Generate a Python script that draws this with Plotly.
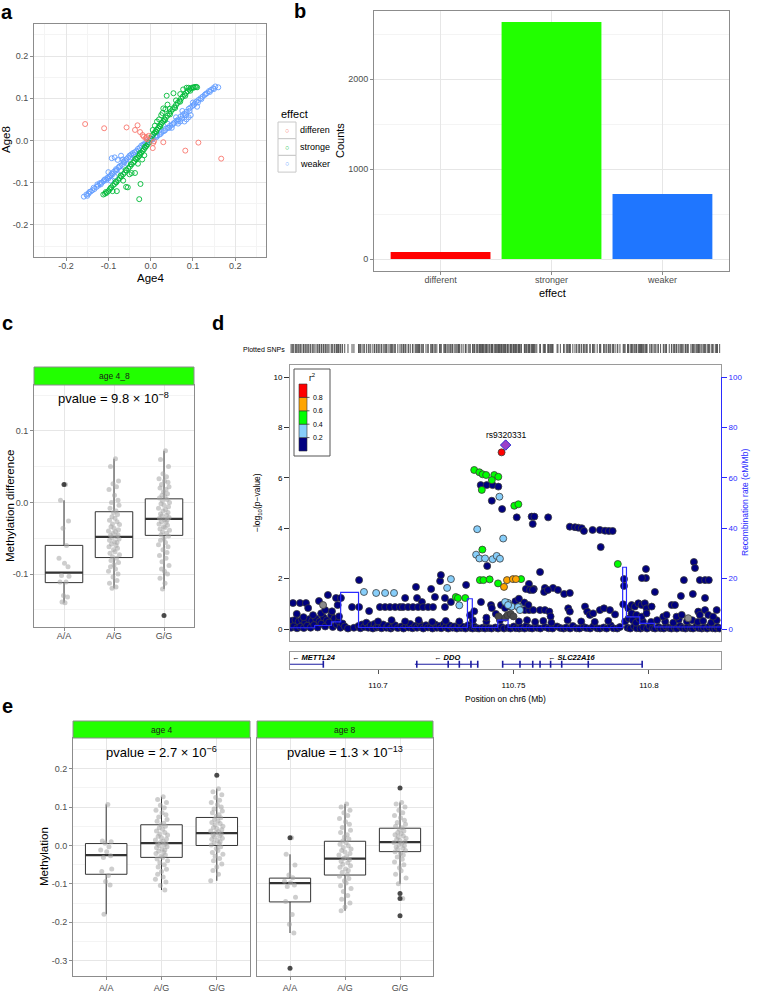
import plotly.graph_objects as go

W, H = 757, 993
FONT = "Liberation Sans, Arial, sans-serif"

# ---------------- panel a: effect size at age 4 vs age 8
weaker_a = [(-0.158, -0.133), (-0.152, -0.128), (-0.147, -0.126), (-0.142, -0.121), (-0.138, -0.118),
            (-0.133, -0.115), (-0.128, -0.110), (-0.124, -0.107), (-0.120, -0.101), (-0.116, -0.100),
            (-0.112, -0.097), (-0.108, -0.092), (-0.105, -0.094), (-0.100, -0.090), (-0.097, -0.085),
            (-0.094, -0.083), (-0.090, -0.080), (-0.087, -0.074), (-0.083, -0.072), (-0.080, -0.070),
            (-0.076, -0.064), (-0.072, -0.060), (-0.068, -0.058), (-0.064, -0.050), (-0.060, -0.047),
            (-0.057, -0.044), (-0.053, -0.040), (-0.050, -0.036), (-0.046, -0.033), (-0.042, -0.030),
            (-0.038, -0.028), (-0.034, -0.025), (-0.030, -0.020), (-0.026, -0.017), (-0.022, -0.012),
            (-0.018, -0.010), (-0.013, -0.006), (-0.009, -0.003), (-0.004, 0.001), (0.001, 0.002),
            (0.006, 0.005), (0.011, 0.009), (0.016, 0.012), (0.021, 0.014), (0.026, 0.020),
            (0.031, 0.022), (0.036, 0.028), (0.041, 0.030), (0.046, 0.035), (0.051, 0.037),
            (0.056, 0.042), (0.061, 0.047), (0.066, 0.050), (0.071, 0.057), (0.076, 0.060),
            (0.080, 0.064), (0.085, 0.068), (0.090, 0.075), (0.094, 0.078), (0.099, 0.082),
            (0.104, 0.087), (0.108, 0.092), (0.113, 0.096), (0.118, 0.100), (0.123, 0.104),
            (0.128, 0.108), (0.133, 0.112), (0.138, 0.117), (0.143, 0.120), (0.148, 0.124),
            (0.153, 0.128), (0.160, 0.126), (-0.100, -0.075), (-0.095, -0.095), (-0.066, -0.045),
            (-0.055, -0.055), (0.060, 0.055), (0.070, 0.045), (0.085, 0.050), (0.090, 0.055),
            (0.095, 0.060), (0.110, 0.080), (0.075, 0.070), (0.040, 0.040), (0.050, 0.030),
            (-0.070, -0.072), (-0.085, -0.085), (0.100, 0.090), (0.065, 0.040), (0.080, 0.045),
            (-0.092, -0.042), (-0.085, -0.040), (-0.078, -0.046), (-0.070, -0.036),
            (-0.150, -0.131), (-0.145, -0.122), (-0.135, -0.112), (-0.126, -0.104), (-0.118, -0.104),
            (-0.110, -0.094), (-0.102, -0.088), (-0.092, -0.078), (-0.082, -0.068), (-0.074, -0.062),
            (-0.062, -0.052), (-0.048, -0.040), (-0.040, -0.034), (-0.028, -0.024), (-0.016, -0.012),
            (-0.006, -0.004), (0.004, 0.002), (0.014, 0.008), (0.024, 0.016), (0.034, 0.024),
            (0.044, 0.030), (0.054, 0.040), (0.064, 0.045), (0.074, 0.052), (0.083, 0.060),
            (0.092, 0.070), (0.102, 0.084), (0.112, 0.090), (0.120, 0.098), (0.130, 0.110),
            (0.140, 0.115), (0.150, 0.122)]
stronger_a = [(-0.112, -0.128), (-0.108, -0.126), (-0.104, -0.124), (-0.100, -0.120), (-0.097, -0.116),
              (-0.093, -0.111), (-0.089, -0.106), (-0.085, -0.103), (-0.081, -0.099), (-0.077, -0.094),
              (-0.073, -0.089), (-0.069, -0.085), (-0.065, -0.080), (-0.061, -0.076), (-0.057, -0.071),
              (-0.053, -0.066), (-0.049, -0.062), (-0.045, -0.057), (-0.041, -0.052), (-0.038, -0.049),
              (-0.034, -0.044), (-0.031, -0.041), (-0.028, -0.037), (-0.025, -0.033), (-0.022, -0.029),
              (-0.019, -0.025), (-0.016, -0.021), (-0.013, -0.017), (-0.010, -0.013), (-0.007, -0.009),
              (-0.004, -0.005), (0.003, 0.010), (0.006, 0.014), (0.009, 0.018), (0.012, 0.022),
              (0.015, 0.026), (0.018, 0.030), (0.021, 0.034), (0.024, 0.038), (0.027, 0.042),
              (0.030, 0.046), (0.033, 0.050), (0.036, 0.054), (0.040, 0.059), (0.044, 0.064),
              (0.048, 0.069), (0.052, 0.074), (0.056, 0.079), (0.060, 0.084), (0.064, 0.089),
              (0.068, 0.094), (0.072, 0.099), (0.076, 0.104), (0.080, 0.109), (0.084, 0.113),
              (0.088, 0.117), (0.092, 0.121), (0.096, 0.124), (0.100, 0.126), (0.105, 0.127),
              (0.110, 0.126), (-0.027, -0.139), (-0.024, -0.103), (-0.058, -0.110), (-0.054, -0.111),
              (-0.080, -0.120), (-0.045, -0.077), (-0.037, -0.077), (0.038, 0.106), (0.054, 0.112),
              (0.077, 0.121), (0.030, 0.076), (0.035, 0.074), (0.020, 0.050), (0.025, 0.060),
              (0.015, 0.045), (-0.030, -0.055), (-0.020, -0.045), (-0.050, -0.080), (-0.065, -0.095),
              (-0.090, -0.120), (0.045, 0.075), (0.060, 0.095), (0.070, 0.110), (0.085, 0.125),
              (0.005, 0.025), (-0.015, -0.035), (0.010, 0.035), (0.028, 0.065), (0.040, 0.085),
              (0.090, 0.125), (-0.106, -0.122), (-0.095, -0.113), (-0.083, -0.098), (-0.071, -0.083),
              (-0.059, -0.070), (-0.047, -0.056), (-0.036, -0.043), (-0.026, -0.030), (-0.014, -0.015),
              (0.000, 0.004), (0.013, 0.020), (0.023, 0.033), (0.034, 0.048), (0.046, 0.062),
              (0.058, 0.077), (0.070, 0.092), (0.082, 0.106), (0.094, 0.118), (0.102, 0.125),
              (0.108, 0.127)]
different_a = [(-0.155, 0.039), (-0.110, 0.029), (-0.057, 0.031), (-0.031, 0.036), (-0.037, 0.025),
               (-0.025, 0.020), (-0.019, 0.013), (-0.016, 0.009), (-0.011, 0.006), (-0.009, 0.003),
               (-0.009, 0.008), (-0.005, 0.011), (0.006, -0.006), (0.008, -0.002), (0.005, -0.018),
               (0.030, -0.004), (0.082, -0.024), (0.113, -0.005), (0.167, -0.043)]
effect_levels = ["different", "stronger", "weaker"]
effect_colors = ["#F8766D", "#00BA38", "#619CFF"]
legend_labels_a = ["differen", "stronge", "weaker"]
a_ticks = [-0.2, -0.1, 0.0, 0.1, 0.2]
a_ticktext = ["-0.2", "-0.1", "0.0", "0.1", "0.2"]
a_minor = [-0.25, -0.15, -0.05, 0.05, 0.15, 0.25]

# ---------------- panel b: counts per effect class
effect_counts = [78, 2633, 722]
bar_colors = ["#FF0000", "#22FF00", "#1F76FF"]
b_ticks = [0, 1000, 2000]
b_minor = [500, 1500, 2500]

# ---------------- panel c and e: methylation by genotype
genotypes = ["A/A", "A/G", "G/G"]
jitter = [0.03, -0.07, 0.09, -0.02, 0.05, -0.10, 0.01, 0.08, -0.05, 0.10, -0.08, 0.04, -0.01, 0.07, -0.04,
          0.02, -0.09, 0.06, -0.03, 0.11, -0.06, 0.00, 0.09, -0.11, 0.03, -0.02, 0.08, -0.07, 0.05, -0.04,
          0.10, -0.09, 0.01, 0.06, -0.05, 0.04, -0.10, 0.07, -0.01, 0.02, -0.08, 0.11, -0.03, 0.05, -0.06,
          0.09, 0.00, -0.07, 0.03, -0.11, 0.08, -0.02, 0.06, -0.09, 0.04, -0.04, 0.10, -0.05, 0.01, 0.07,
          -0.08, 0.02, -0.03, 0.09, -0.10, 0.05, -0.01, 0.08, -0.06, 0.03, 0.11, -0.04, 0.00, 0.06, -0.09,
          0.04, -0.07, 0.10, -0.02, 0.07, -0.05, 0.02, -0.11, 0.08, -0.03, 0.05, -0.08, 0.01, 0.09, -0.06]

c_AA = [0.025, 0.003, -0.026, -0.036, -0.060, -0.078, -0.085, -0.090, -0.102, -0.103, -0.111, -0.111,
        -0.130, -0.132, -0.139, -0.140]
c_AG = [0.061, 0.050, 0.030, 0.026, 0.022, 0.018, 0.010, 0.003, 0.000, -0.004, -0.008, -0.012, -0.014,
        -0.017, -0.020, -0.022, -0.025, -0.027, -0.030, -0.031, -0.034, -0.036, -0.038, -0.040, -0.041,
        -0.043, -0.045, -0.046, -0.048, -0.049, -0.051, -0.053, -0.055, -0.056, -0.058, -0.060, -0.062,
        -0.064, -0.066, -0.069, -0.071, -0.073, -0.076, -0.078, -0.081, -0.084, -0.087, -0.090, -0.093,
        -0.096, -0.100, -0.104, -0.109, -0.113, -0.118, -0.120]
c_GG = [0.072, 0.060, 0.050, 0.040, 0.036, 0.033, 0.030, 0.028, 0.025, 0.022, 0.020, 0.018, 0.015, 0.012,
        0.010, 0.008, 0.006, 0.004, 0.002, 0.000, -0.002, -0.004, -0.006, -0.008, -0.010, -0.012, -0.014,
        -0.016, -0.018, -0.019, -0.021, -0.022, -0.024, -0.025, -0.027, -0.028, -0.030, -0.032, -0.034,
        -0.035, -0.037, -0.039, -0.041, -0.043, -0.045, -0.047, -0.050, -0.053, -0.056, -0.059, -0.062,
        -0.066, -0.070, -0.074, -0.078, -0.083, -0.088, -0.093, -0.096, -0.100, -0.106, -0.113, -0.121]
c_outliers = [[0.025], [], [-0.158]]
c_q1 = [-0.112, -0.077, -0.046]
c_med = [-0.098, -0.048, -0.023]
c_q3 = [-0.060, -0.013, 0.005]
c_lo = [-0.140, -0.120, -0.121]
c_hi = [0.003, 0.061, 0.072]
c_ticks = [-0.1, 0.0, 0.1]
c_ticktext = ["-0.1", "0.0", "0.1"]
c_minor = [-0.15, -0.05, 0.05, 0.15]

e4_AA = [0.107, 0.012, 0.010, 0.006, -0.003, -0.012, -0.016, -0.027, -0.031, -0.061, -0.068, -0.078,
         -0.094, -0.103, -0.179]
e4_AG = [0.127, 0.120, 0.112, 0.105, 0.098, 0.092, 0.085, 0.080, 0.074, 0.068, 0.063, 0.058, 0.054, 0.050,
         0.046, 0.042, 0.038, 0.034, 0.030, 0.027, 0.024, 0.020, 0.017, 0.014, 0.011, 0.008, 0.006, 0.004,
         0.002, 0.000, -0.003, -0.006, -0.009, -0.012, -0.015, -0.018, -0.021, -0.025, -0.028, -0.031,
         -0.035, -0.040, -0.045, -0.050, -0.056, -0.062, -0.068, -0.075, -0.082, -0.088, -0.095, -0.104,
         -0.116]
e4_GG = [0.148, 0.140, 0.132, 0.125, 0.118, 0.112, 0.106, 0.100, 0.095, 0.090, 0.085, 0.080, 0.076, 0.072,
         0.068, 0.064, 0.060, 0.057, 0.054, 0.050, 0.047, 0.044, 0.041, 0.038, 0.036, 0.033, 0.030, 0.027,
         0.025, 0.022, 0.019, 0.016, 0.013, 0.010, 0.007, 0.004, 0.001, -0.003, -0.008, -0.013, -0.018,
         -0.023, -0.028, -0.034, -0.040, -0.048, -0.056, -0.065, -0.075, -0.092]
e4_outliers = [[], [], [0.183]]
e4_q1 = [-0.075, -0.031, 0.000]
e4_med = [-0.025, 0.006, 0.032]
e4_q3 = [0.005, 0.054, 0.073]
e4_lo = [-0.179, -0.116, -0.092]
e4_hi = [0.107, 0.127, 0.148]

e8_AA = [0.020, -0.023, -0.051, -0.077, -0.084, -0.093, -0.097, -0.103, -0.107, -0.135, -0.146, -0.180,
         -0.205, -0.228]
e8_AG = [0.108, 0.100, 0.092, 0.085, 0.078, 0.070, 0.062, 0.055, 0.047, 0.040, 0.034, 0.028, 0.022, 0.017,
         0.012, 0.007, 0.003, -0.001, -0.005, -0.009, -0.013, -0.017, -0.021, -0.025, -0.029, -0.033,
         -0.037, -0.041, -0.045, -0.049, -0.053, -0.057, -0.061, -0.065, -0.070, -0.075, -0.080, -0.086,
         -0.092, -0.098, -0.105, -0.112, -0.120, -0.130, -0.140, -0.150, -0.160, -0.170]
e8_GG = [0.112, 0.108, 0.100, 0.092, 0.085, 0.078, 0.072, 0.066, 0.060, 0.055, 0.050, 0.046, 0.042, 0.038,
         0.034, 0.031, 0.028, 0.025, 0.022, 0.019, 0.016, 0.013, 0.010, 0.008, 0.005, 0.002, -0.001, -0.004,
         -0.007, -0.010, -0.013, -0.016, -0.020, -0.025, -0.030, -0.036, -0.043, -0.050, -0.058, -0.066,
         -0.075, -0.085, -0.100, -0.138]
e8_outliers = [[0.020, -0.320], [], [0.150, -0.125, -0.138, -0.183]]
e8_q1 = [-0.147, -0.077, -0.016]
e8_med = [-0.098, -0.034, 0.009]
e8_q3 = [-0.085, 0.011, 0.045]
e8_lo = [-0.228, -0.170, -0.100]
e8_hi = [-0.023, 0.108, 0.112]
e_ticks = [-0.3, -0.2, -0.1, 0.0, 0.1, 0.2]
e_ticktext = ["-0.3", "-0.2", "-0.1", "0.0", "0.1", "0.2"]
e_minor = [-0.25, -0.15, -0.05, 0.05, 0.15, 0.25]

# ---------------- panel d: regional association plot (position Mb, -log10 p)
navy_snps = [
    (110.6679, 0.05), (110.6683, 0.33), (110.6689, 0.12), (110.6695, 0.36), (110.6701, 0.03), (110.6707, 0.30),
    (110.6713, 0.09), (110.6719, 0.37), (110.6726, 0.04), (110.6731, 0.27), (110.6738, 0.13), (110.6745, 0.39),
    (110.6751, 0.05), (110.6757, 0.33), (110.6764, 0.16), (110.6771, 0.41), (110.6777, 0.06), (110.6784, 0.30),
    (110.6791, 0.21), (110.6799, 0.46), (110.6805, 0.10), (110.6811, 0.35), (110.6819, 0.26), (110.6827, 0.55),
    (110.6833, 0.08), (110.6839, 0.42), (110.6847, 0.18), (110.6854, 0.31), (110.6861, 0.05), (110.6869, 0.22),
    (110.6877, 0.10), (110.6889, 0.02), (110.6911, 0.05), (110.6928, 0.12), (110.6935, 0.03), (110.6941, 0.18),
    (110.6949, 0.08), (110.6957, 0.25), (110.6964, 0.05), (110.6973, 0.15), (110.6981, 0.02), (110.6987, 0.20),
    (110.6995, 0.06), (110.7003, 0.10), (110.7013, 0.03), (110.7019, 0.18), (110.7031, 0.05), (110.7037, 0.12),
    (110.7047, 0.02), (110.7054, 0.08), (110.7063, 0.15), (110.7073, 0.04), (110.7086, 0.10), (110.7094, 0.02),
    (110.7103, 0.14), (110.7113, 0.06), (110.7119, 0.20), (110.7127, 0.03), (110.7137, 0.12), (110.7144, 0.05),
    (110.7153, 0.22), (110.7159, 0.08), (110.7167, 0.02), (110.7177, 0.15), (110.7184, 0.06), (110.7195, 0.10),
    (110.7201, 0.02), (110.7211, 0.18), (110.7217, 0.05), (110.7227, 0.12), (110.7233, 0.03), (110.7243, 0.20),
    (110.7249, 0.07), (110.7259, 0.02), (110.7265, 0.14), (110.7275, 0.05), (110.7281, 0.10), (110.7291, 0.02),
    (110.7297, 0.16), (110.7307, 0.04), (110.7314, 0.09), (110.7323, 0.02), (110.7333, 0.15), (110.7339, 0.05),
    (110.7349, 0.02), (110.7355, 0.10), (110.7366, 0.03), (110.7373, 0.02), (110.7386, 0.05), (110.7395, 0.02),
    (110.7409, 0.04), (110.7419, 0.02), (110.7433, 0.06), (110.7443, 0.02), (110.7456, 0.08), (110.7465, 0.02),
    (110.7479, 0.05), (110.7489, 0.02), (110.7501, 0.10), (110.7509, 0.03), (110.7521, 0.02), (110.7529, 0.06),
    (110.7541, 0.02), (110.7547, 0.12), (110.7559, 0.04), (110.7569, 0.02), (110.7586, 0.05), (110.7599, 0.02),
    (110.7616, 0.08), (110.7629, 0.03), (110.7644, 0.02), (110.7661, 0.10), (110.7673, 0.04), (110.7685, 0.02),
    (110.7695, 0.06), (110.7709, 0.02), (110.7719, 0.12), (110.7733, 0.03), (110.7744, 0.02), (110.7759, 0.08),
    (110.7769, 0.04), (110.7783, 0.02), (110.7794, 0.10), (110.7809, 0.03), (110.7819, 0.02), (110.7833, 0.06),
    (110.7844, 0.02), (110.7859, 0.14), (110.7869, 0.03), (110.7883, 0.02), (110.7893, 0.08), (110.7921, 0.05),
    (110.7931, 0.02), (110.7945, 0.10), (110.7955, 0.03), (110.7969, 0.02), (110.7979, 0.06), (110.7993, 0.02),
    (110.8003, 0.12), (110.8015, 0.04), (110.8023, 0.02), (110.8035, 0.08), (110.8043, 0.03), (110.8055, 0.02),
    (110.8063, 0.10), (110.8075, 0.04), (110.8083, 0.02), (110.8095, 0.06), (110.8103, 0.02), (110.8115, 0.12),
    (110.8123, 0.04), (110.8135, 0.02), (110.8143, 0.08), (110.8155, 0.03), (110.8163, 0.02), (110.8175, 0.10),
    (110.8183, 0.04), (110.8195, 0.02), (110.8203, 0.06), (110.8215, 0.02), (110.8223, 0.10), (110.8235, 0.03),
    (110.8245, 0.02), (110.8253, 0.08), (110.8261, 0.02),
    (110.7912, 0.30), (110.7925, 0.42), (110.7940, 0.35), (110.7952, 0.25), (110.7965, 0.40), (110.7978, 0.30),
    (110.8008, 0.28), (110.8030, 0.35), (110.8060, 0.30), (110.8090, 0.25), (110.8110, 0.38), (110.8140, 0.30),
    (110.8160, 0.35), (110.8180, 0.28), (110.8200, 0.32), (110.8230, 0.25), (110.8250, 0.35), (110.7520, 0.30),
    (110.7550, 0.35), (110.7580, 0.28), (110.7610, 0.32), (110.7640, 0.25), (110.7700, 0.35), (110.7750, 0.30),
    (110.7800, 0.28), (110.7850, 0.32), (110.7000, 0.30), (110.7050, 0.35), (110.7100, 0.30), (110.7150, 0.35),
    (110.7200, 0.28), (110.7250, 0.32), (110.7300, 0.30), (110.7350, 0.35), (110.7400, 0.30), (110.7450, 0.35),
    (110.6686, 1.03), (110.6712, 1.03), (110.6734, 1.03), (110.6742, 0.83), (110.6782, 1.11), (110.6815, 1.35),
    (110.6845, 1.23), (110.6863, 1.23), (110.6851, 0.95), (110.6760, 0.55), (110.6700, 0.60), (110.6725, 0.47),
    (110.6790, 0.62), (110.6805, 0.75), (110.6830, 0.70), (110.6856, 0.50), (110.6904, 0.87), (110.6930, 0.87),
    (110.6930, 1.94), (110.6967, 0.71), (110.7007, 0.87), (110.7026, 0.87), (110.7044, 0.87), (110.7063, 0.87),
    (110.7081, 0.87), (110.7100, 1.23), (110.7140, 1.67), (110.7144, 1.23), (110.7162, 1.07), (110.7092, 0.87),
    (110.7111, 0.87), (110.7129, 0.87), (110.7148, 0.87), (110.7166, 0.87), (110.7185, 0.87), (110.7203, 0.87),
    (110.7196, 1.59), (110.7210, 1.27), (110.7229, 1.90), (110.7232, 2.14), (110.7247, 1.23), (110.7247, 0.87),
    (110.7269, 1.07), (110.7325, 1.75), (110.7380, 1.07), (110.7417, 0.95), (110.7420, 0.83), (110.7454, 0.95),
    (110.7469, 0.83), (110.7340, 0.55), (110.7355, 0.70), (110.7400, 0.45), (110.7435, 0.60),
    (110.7598, 2.26), (110.7557, 1.79), (110.7575, 1.59), (110.7546, 1.59), (110.7616, 1.63), (110.7646, 1.63),
    (110.7613, 1.47), (110.7687, 1.39), (110.7908, 1.98), (110.7908, 1.71), (110.7989, 2.38), (110.7989, 2.02),
    (110.7974, 2.02), (110.8022, 1.47), (110.8129, 1.94), (110.8166, 2.66), (110.8170, 2.42), (110.8188, 1.94),
    (110.8207, 1.94), (110.8221, 1.94), (110.8118, 1.31), (110.8162, 1.39), (110.8207, 1.23),
    (110.7542, 0.75), (110.7558, 0.75), (110.7573, 0.75), (110.7598, 0.75), (110.7616, 0.75), (110.7632, 0.69),
    (110.7637, 0.50), (110.7702, 0.82), (110.7708, 0.69), (110.7764, 0.89), (110.7772, 0.69), (110.7782, 0.56),
    (110.7794, 0.62), (110.7819, 0.75), (110.7834, 0.82), (110.7856, 0.75), (110.7875, 0.58), (110.7905, 0.98),
    (110.7924, 0.82), (110.7936, 0.95), (110.7948, 0.89), (110.7961, 1.02), (110.7973, 0.95), (110.7985, 1.02),
    (110.7991, 0.82), (110.7936, 0.62), (110.7954, 0.56), (110.7973, 0.49), (110.7991, 0.62), (110.8010, 0.89),
    (110.8053, 0.49), (110.8065, 0.56), (110.8084, 0.95), (110.8096, 0.95), (110.8102, 0.49), (110.8121, 0.56),
    (110.8182, 0.69), (110.8188, 0.56), (110.8207, 0.75), (110.8219, 0.56), (110.8237, 0.49), (110.8250, 0.75),
    (110.7487, 0.90), (110.7507, 1.10), (110.7520, 1.20), (110.7540, 1.05), (110.7555, 0.95), (110.7561, 1.55),
    (110.7572, 1.55), (110.7627, 1.55), (110.7664, 1.55), (110.7708, 1.43),
    (110.7379, 5.71), (110.7401, 5.71), (110.7423, 5.71), (110.7444, 5.65), (110.7420, 5.09), (110.7458, 4.76),
    (110.7512, 4.43), (110.7567, 4.46), (110.7577, 4.46), (110.7628, 4.43), (110.7571, 4.17), (110.7708, 4.06),
    (110.7727, 4.04), (110.7739, 4.02), (110.7752, 4.00), (110.7760, 3.89), (110.7792, 3.93), (110.7819, 3.93),
    (110.7838, 3.90), (110.7852, 3.89), (110.7866, 3.89), (110.7822, 3.25), (110.7403, 2.50)]
lightblue_snps = [
    (110.6948, 1.47), (110.6993, 1.43), (110.7026, 1.43), (110.7059, 1.43), (110.7269, 1.98), (110.7255, 1.63),
    (110.7300, 0.94), (110.7366, 3.96), (110.7462, 3.59), (110.7362, 2.95), (110.7374, 2.80), (110.7395, 2.80),
    (110.7423, 2.77), (110.7438, 2.90), (110.7450, 2.79), (110.7448, 5.25), (110.7479, 1.04), (110.7521, 0.89),
    (110.7493, 0.89), (110.7469, 1.07), (110.7480, 0.95), (110.7517, 0.87), (110.7524, 0.75)]
green_snps = [
    (110.7355, 6.31), (110.7374, 6.22), (110.7386, 6.14), (110.7399, 6.11), (110.7429, 6.11), (110.7444, 6.04),
    (110.7420, 5.91), (110.7383, 5.52), (110.7503, 4.89), (110.7518, 4.95), (110.7385, 3.15), (110.7885, 2.58),
    (110.7376, 1.94), (110.7389, 1.94), (110.7443, 1.81), (110.7528, 1.98), (110.7287, 1.27), (110.7295, 1.23),
    (110.7322, 1.23), (110.7412, 1.97)]
orange_snps = [(110.7465, 1.67), (110.7476, 1.94), (110.7498, 1.98), (110.7509, 1.98)]
red_snps = [(110.7456, 7.01)]
gray_snps = [(110.6797, 0.95), (110.8145, 0.43)]
darkgray_snps = [(110.7470, 0.45), (110.7478, 0.55), (110.7490, 0.60), (110.7500, 0.50), (110.7445, 0.50)]
index_snp = ("rs9320331", 110.7471, 7.30)

recomb_pos = [110.6675, 110.6766, 110.6828, 110.6862, 110.6928, 110.7330, 110.7348, 110.7442, 110.7480,
              110.7903, 110.7917, 110.7966, 110.8020, 110.8266]
recomb_rate = [0.5, 1.4, 2.8, 14.5, 0.6, 12.0, 0.6, 3.5, 0.6, 24.5, 4.8, 2.2, 0.8, 0.8]

gene_names = ["METTL24", "DDO", "SLC22A16"]
gene_start = [110.6650, 110.7136, 110.7460]
gene_end = [110.6798, 110.7370, 110.7975]
gene_exons = [[110.6798], [110.7143, 110.7259, 110.7300, 110.7343, 110.7368],
              [110.7460, 110.7524, 110.7571, 110.7598, 110.7637, 110.7678, 110.7776, 110.7975]]

r2_breaks = [0.0, 0.2, 0.4, 0.6, 0.8, 1.0]
r2_colors = ["#000080", "#87CEFA", "#00FF00", "#FFA500", "#FF0000"]
d_range = [110.6675, 110.8266]
d_ticks = [110.7, 110.75, 110.8]
d_ticktext = ["110.7", "110.75", "110.8"]

# ---------------- helpers
def dx(a, b):
    return [a / W, b / W]

def dy(top, bottom):
    return [1 - bottom / H, 1 - top / H]

def px(x):
    return x / W

def py(y):
    return 1 - y / H

GRID = "#e6e6e6"
MINOR = "#f4f4f4"
BORDER = "#8c8c8c"
TICKC = "#4d4d4d"

def frame(domain, rng, anchor, **kw):
    d = dict(domain=domain, range=rng, anchor=anchor, showline=True, mirror=True, linecolor=BORDER,
             linewidth=1, zeroline=False, showgrid=False, ticks="", showticklabels=False, fixedrange=True)
    d.update(kw)
    return d

def gg(domain, rng, anchor, tickvals, ticktext=None, minor=None, labels=True, ticks="outside", **kw):
    d = frame(domain, rng, anchor, tickvals=tickvals, ticktext=ticktext, showgrid=True, gridcolor=GRID,
              gridwidth=1, ticks=ticks, ticklen=3, tickcolor=BORDER, tickwidth=1, showticklabels=labels,
              tickfont=dict(size=9, color=TICKC))
    if minor:
        d["minor"] = dict(tickvals=minor, showgrid=True, gridcolor=MINOR, gridwidth=1, ticks="")
    d.update(kw)
    return d

fig = go.Figure()
annots = []
shapes = []

def note(text, x, y, size=9, color="black", angle=0, xanchor="center", yanchor="middle", **kw):
    annots.append(dict(text=text, x=px(x), y=py(y), xref="paper", yref="paper", showarrow=False,
                       font=dict(size=size, color=color, family=FONT), textangle=angle,
                       xanchor=xanchor, yanchor=yanchor, **kw))

# ---------------- panel a
for pts, col in zip([weaker_a, stronger_a, different_a], [effect_colors[2], effect_colors[1], effect_colors[0]]):
    xs, ys = zip(*pts)
    fig.add_trace(go.Scatter(x=xs, y=ys, mode="markers", xaxis="x", yaxis="y", hoverinfo="skip",
                             marker=dict(symbol="circle-open", size=5, color=col, line=dict(width=0.9))))

# ---------------- panel b
fig.add_trace(go.Bar(x=[0, 1, 2], y=effect_counts, width=0.9, xaxis="x2", yaxis="y2",
                     marker=dict(color=bar_colors, line=dict(width=0))))

# ---------------- box panels
def box_panel(xa, ya, groups, q1, med, q3, lo, hi, outliers):
    pos = [0, 1, 2]
    fig.add_trace(go.Box(x=pos, q1=q1, median=med, q3=q3, lowerfence=lo, upperfence=hi, width=0.75,
                         whiskerwidth=0, fillcolor="white", line=dict(color="#333333", width=1),
                         xaxis=xa, yaxis=ya, boxpoints=False, hoverinfo="skip"))
    mx, my = [], []
    for p, m in zip(pos, med):
        mx += [p - 0.375, p + 0.375, None]
        my += [m, m, None]
    fig.add_trace(go.Scatter(x=mx, y=my, mode="lines", line=dict(color="#333333", width=2.2),
                             xaxis=xa, yaxis=ya, hoverinfo="skip"))
    jx, jy = [], []
    for p, vals in zip(pos, groups):
        jx += [p + jitter[i] for i in range(len(vals))]
        jy += vals
    fig.add_trace(go.Scatter(x=jx, y=jy, mode="markers", xaxis=xa, yaxis=ya, hoverinfo="skip",
                             marker=dict(size=5, color="rgba(165,165,165,0.55)", line=dict(width=0))))
    ox, oy = [], []
    for p, vals in zip(pos, outliers):
        ox += [p] * len(vals)
        oy += vals
    fig.add_trace(go.Scatter(x=ox, y=oy, mode="markers", xaxis=xa, yaxis=ya, hoverinfo="skip",
                             marker=dict(size=5, color="rgba(30,30,30,0.8)", line=dict(width=0))))

box_panel("x3", "y3", [c_AA, c_AG, c_GG], c_q1, c_med, c_q3, c_lo, c_hi, c_outliers)
box_panel("x7", "y8", [e4_AA, e4_AG, e4_GG], e4_q1, e4_med, e4_q3, e4_lo, e4_hi, e4_outliers)
box_panel("x8", "y9", [e8_AA, e8_AG, e8_GG], e8_q1, e8_med, e8_q3, e8_lo, e8_hi, e8_outliers)

# ---------------- panel d
fig.add_trace(go.Scatter(x=recomb_pos, y=recomb_rate, mode="lines", line_shape="hv", xaxis="x4", yaxis="y5",
                         line=dict(color="#2b2bff", width=1.2), hoverinfo="skip"))
groups_d = [(navy_snps, r2_colors[0]), (gray_snps, "#8c8c8c"), (darkgray_snps, "#4a4a4a"),
            (lightblue_snps, r2_colors[1]), (green_snps, r2_colors[2]), (orange_snps, r2_colors[3]),
            (red_snps, r2_colors[4])]
all_pos = []
for pts, col in groups_d:
    xs, ys = zip(*pts)
    all_pos += list(xs)
    fig.add_trace(go.Scatter(x=xs, y=ys, mode="markers", xaxis="x4", yaxis="y4", hoverinfo="skip",
                             marker=dict(size=7, color=col, line=dict(width=0.8, color="#3a3a3a"))))
fig.add_trace(go.Scatter(x=[index_snp[1]], y=[index_snp[2]], mode="markers", xaxis="x4", yaxis="y4",
                         marker=dict(symbol="diamond", size=8, color="#9B3FC8", line=dict(width=1, color="#2a2ad0"))))
all_pos.append(index_snp[1])
annots.append(dict(text=index_snp[0], x=index_snp[1], y=index_snp[2], xref="x4", yref="y4", yshift=10,
                   showarrow=False, font=dict(size=8.5, family=FONT, color="black")))

# plotted SNPs rug
fig.add_trace(go.Scatter(x=all_pos, y=[0.5] * len(all_pos), mode="markers", xaxis="x6", yaxis="y7",
                         hoverinfo="skip", marker=dict(symbol="line-ns", size=9, line=dict(width=1, color="#555555"))))

# gene track
gx, gy = [], []
for s, e in zip(gene_start, gene_end):
    gx += [s, e, None]
    gy += [0.28, 0.28, None]
fig.add_trace(go.Scatter(x=gx, y=gy, mode="lines", xaxis="x5", yaxis="y6", hoverinfo="skip",
                         line=dict(color="#1c1ca0", width=1)))
ex = [p for ex_list in gene_exons for p in ex_list]
fig.add_trace(go.Scatter(x=ex, y=[0.28] * len(ex), mode="markers", xaxis="x5", yaxis="y6", hoverinfo="skip",
                         marker=dict(symbol="line-ns", size=5, line=dict(width=1.6, color="#1c1ca0"))))
for name, s, e in zip(gene_names, gene_start, gene_end):
    cx = max((s + e) / 2, d_range[0] + 0.009)
    annots.append(dict(text="<b><i>\u2190 " + name + "</i></b>", x=cx, y=0.68, xref="x5", yref="y6",
                       showarrow=False, font=dict(size=7.5, family=FONT, color="black")))

# r2 legend
shapes.append(dict(type="rect", xref="paper", yref="paper", x0=px(294), x1=px(330), y0=py(456), y1=py(369),
                   line=dict(color="#555555", width=1), fillcolor="white"))
bar_top, bar_bot = 384, 451
for lo_b, hi_b, col in zip(r2_breaks[:-1], r2_breaks[1:], r2_colors):
    shapes.append(dict(type="rect", xref="paper", yref="paper", x0=px(299), x1=px(307),
                       y0=py(bar_bot - lo_b * (bar_bot - bar_top)), y1=py(bar_bot - hi_b * (bar_bot - bar_top)),
                       line=dict(color="#333333", width=0.6), fillcolor=col))
for b in r2_breaks[1:-1]:
    yy = bar_bot - b * (bar_bot - bar_top)
    shapes.append(dict(type="line", xref="paper", yref="paper", x0=px(307), x1=px(309.5), y0=py(yy), y1=py(yy),
                       line=dict(color="#333333", width=0.8)))
    note("%.1f" % b, 310.5, yy, size=7, xanchor="left")
note("r<sup>2</sup>", 312, 377, size=8.5)

# blue recombination axis line (0 to 100)
shapes.append(dict(type="line", xref="paper", yref="y5", x0=px(721.5), x1=px(721.5), y0=0, y1=100,
                   line=dict(color="#2b2bff", width=1)))

# ---------------- strips
def strip(x0, x1, y0, y1, text):
    shapes.append(dict(type="rect", xref="paper", yref="paper", x0=px(x0), x1=px(x1), y0=py(y1), y1=py(y0),
                       fillcolor="#22FF00", line=dict(color=BORDER, width=1)))
    note(text, (x0 + x1) / 2, (y0 + y1) / 2, size=8.5, color="#1a1a1a")

strip(34, 194, 367, 385, "age 4_8")
strip(73, 250, 721, 738, "age 4")
strip(257, 433, 721, 738, "age 8")

# ---------------- panel a legend
note("effect", 279, 114, size=11, xanchor="left")
for i, (lab, col) in enumerate(zip(legend_labels_a, effect_colors)):
    y0 = 122 + i * 16.7
    shapes.append(dict(type="rect", xref="paper", yref="paper", x0=px(278), x1=px(296), y0=py(y0 + 16.7),
                       y1=py(y0), line=dict(color="#c8c8c8", width=1), fillcolor="white"))
    note("\u25CB", 287, y0 + 8.3, size=7, color=col)
    note(lab, 298, y0 + 8.3, size=9, xanchor="left")

# ---------------- titles and labels
note("Age4", 150, 278, size=11.5)
note("Age8", 6, 140, size=11.5, angle=-90)
note("Counts", 340, 141, size=11, angle=-90)
note("effect", 552, 293, size=11)
note("Methylation difference", 10, 506, size=11.5, angle=-90)
note("pvalue = 9.8 \u00d7 10<sup>\u22128</sup>", 113, 398, size=13)
note("pvalue = 2.7 \u00d7 10<sup>\u22126</sup>", 161, 752, size=13)
note("pvalue = 1.3 \u00d7 10<sup>\u221213</sup>", 345, 752, size=13)
note("Methylation", 44, 857, size=11.5, angle=-90)
note("Plotted SNPs", 287, 349, size=7, xanchor="right")
note("\u2212log<sub>10</sub>(p\u2212value)", 258, 503, size=8.5, angle=-90)
note("Recombination rate (cM/Mb)", 745, 503, size=8.5, angle=-90, color="#2b2bff")
note("Position on chr6 (Mb)", 505.5, 699, size=8.5)
for lab, (x, y) in zip("abcde", [(7, 12), (300, 11), (7, 323), (218, 323), (7, 706)]):
    note("<b>" + lab + "</b>", x, y, size=20)

# ---------------- layout
E_TOP, E_BOT = 738, 976
layout_axes = dict(
    xaxis=gg(dx(34, 266), [-0.276, 0.273], "y", a_ticks, a_ticktext, a_minor, ticklabelstandoff=-3),
    yaxis=gg(dy(24, 257), [-0.276, 0.276], "x", a_ticks, a_ticktext, a_minor),
    xaxis2=gg(dx(374, 729), [-0.6, 2.6], "y2", [0, 1, 2], effect_levels, ticklabelstandoff=-3),
    yaxis2=gg(dy(11, 271), [-133, 2756], "x2", b_ticks, [str(t) for t in b_ticks], b_minor),
    xaxis3=gg(dx(34, 194), [-0.6, 2.6], "y3", [0, 1, 2], genotypes, ticklabelstandoff=-3),
    yaxis3=gg(dy(385, 627), [-0.174, 0.164], "x3", c_ticks, c_ticktext, c_minor),
    xaxis4=frame(dx(290, 721), d_range, "y4", linecolor="#9a9a9a"),
    yaxis4=frame(dy(365, 641), [-0.476, 10.476], "x4", linecolor="#9a9a9a", ticks="outside", ticklen=5,
                 tickcolor="#333333", tickvals=[0, 2, 4, 6, 8, 10], showticklabels=True,
                 tickfont=dict(size=8, color="black")),
    yaxis5=dict(overlaying="y4", side="right", anchor="x4", range=[-4.76, 104.76],
                tickvals=[0, 20, 40, 60, 80, 100], ticks="outside", ticklen=5, tickcolor="#2b2bff",
                tickfont=dict(size=8, color="#2b2bff"), showline=False, showgrid=False, zeroline=False,
                fixedrange=True),
    xaxis5=frame(dx(290, 721), d_range, "y6", linecolor="#9a9a9a", ticks="outside", ticklen=4,
                 tickcolor="#555555", tickvals=d_ticks, ticktext=d_ticktext, showticklabels=True,
                 tickfont=dict(size=8, color="black"), ticklabelstandoff=4),
    yaxis6=frame(dy(652, 669), [0, 1], "x5", linecolor="#9a9a9a"),
    xaxis6=dict(domain=dx(290, 721), range=d_range, anchor="y7", visible=False, fixedrange=True),
    yaxis7=dict(domain=dy(344, 353), range=[0, 1], anchor="x6", visible=False, fixedrange=True),
    xaxis7=gg(dx(73, 250), [-0.6, 2.6], "y8", [0, 1, 2], genotypes, ticklabelstandoff=0),
    yaxis8=gg(dy(E_TOP, E_BOT), [-0.340, 0.280], "x7", e_ticks, e_ticktext, e_minor),
    xaxis8=gg(dx(257, 433), [-0.6, 2.6], "y9", [0, 1, 2], genotypes, ticklabelstandoff=0),
    yaxis9=gg(dy(E_TOP, E_BOT), [-0.340, 0.280], "x8", e_ticks, e_ticktext, e_minor, labels=False, ticks=""),
)

fig.update_layout(
    width=W, height=H, margin=dict(l=0, r=0, t=0, b=0, pad=0),
    paper_bgcolor="white", plot_bgcolor="white", showlegend=False,
    font=dict(family=FONT, color="black"),
    annotations=annots, shapes=shapes, **layout_axes,
)

# the page's default body margin would shift the whole figure by 8 px
fig.write_html("out.html", config={"displayModeBar": False},
               post_script="document.body.style.margin='0px';")
